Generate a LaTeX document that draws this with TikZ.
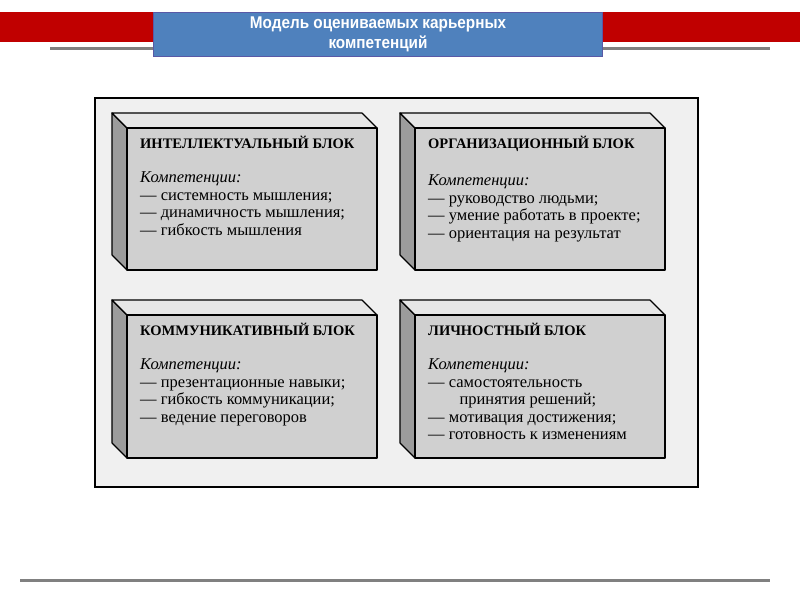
\documentclass[tikz,border=0pt]{standalone}
\usepackage{fontspec}
\setmainfont{Liberation Serif}
\newfontfamily\headfont{Liberation Sans}
\usetikzlibrary{positioning}
\definecolor{bandred}{HTML}{C00000}
\definecolor{titleblue}{HTML}{4F81BD}
\definecolor{frontgray}{HTML}{D0D0D0}
\definecolor{sidegray}{HTML}{9C9C9C}
\definecolor{topgray}{HTML}{E6E6E6}
\tikzset{
  face/.style={draw=black,line width=1.2pt,line join=round},
  boxtext/.style={anchor=north west,align=left,font=\fontsize{16.5}{17.5}\selectfont,inner sep=0pt},
}
\begin{document}
\begin{tikzpicture}[x=1pt,y=-1pt]
\useasboundingbox (0,0) rectangle (800,600);

% header band and title
\fill[bandred] (0,12) rectangle (800,42);
\draw[gray,line width=3pt] (50,48) -- (770,48);
\node[fill=titleblue,draw=gray!70!blue,minimum width=449pt,minimum height=44pt,text=white,
  font=\headfont\bfseries\fontsize{17}{20}\selectfont,align=center,inner sep=1pt] (title) at (378,34)
  {\scalebox{0.9}[1]{Модель оцениваемых карьерных}\\\scalebox{0.9}[1]{компетенций}};

% outer frame
\draw[line width=1.2pt,fill=gray!12] (95,98) rectangle (698,487);

% blocks
\foreach \x/\y/\h/\name/\body in {
  127/128/142/ИНТЕЛЛЕКТУАЛЬНЫЙ БЛОК/{— системность мышления;\\— динамичность мышления;\\— гибкость мышления},
  415/128/142/ОРГАНИЗАЦИОННЫЙ БЛОК/{— руководство людьми;\\— умение работать в проекте;\\— ориентация на результат},
  127/315/143/КОММУНИКАТИВНЫЙ БЛОК/{— презентационные навыки;\\— гибкость коммуникации;\\— ведение переговоров},
  415/315/143/ЛИЧНОСТНЫЙ БЛОК/{— самостоятельность\\\hspace*{1.9em}принятия решений;\\— мотивация достижения;\\— готовность к изменениям}}
{
  \fill[sidegray,face] (\x,\y) -- ++(-15,-15) -- ++(0,\h) -- ++(15,15) -- cycle;
  \fill[topgray,face] (\x,\y) -- ++(-15,-15) -- ++(250,0) -- ++(15,15) -- cycle;
  \fill[frontgray,face] (\x,\y) rectangle ++(250,\h);
  \node[boxtext,font=\bfseries\fontsize{14.5}{16}\selectfont] (head\x\y) at (\x+13,\y+8) {\name};
  \node[boxtext,below=23pt of head\x\y.south west,anchor=north west] (body\x\y)
    {\textit{Компетенции:}\\\body};
}

% bottom rule
\draw[gray,line width=3pt] (20,580) -- (770,580);
\end{tikzpicture}
\end{document}
